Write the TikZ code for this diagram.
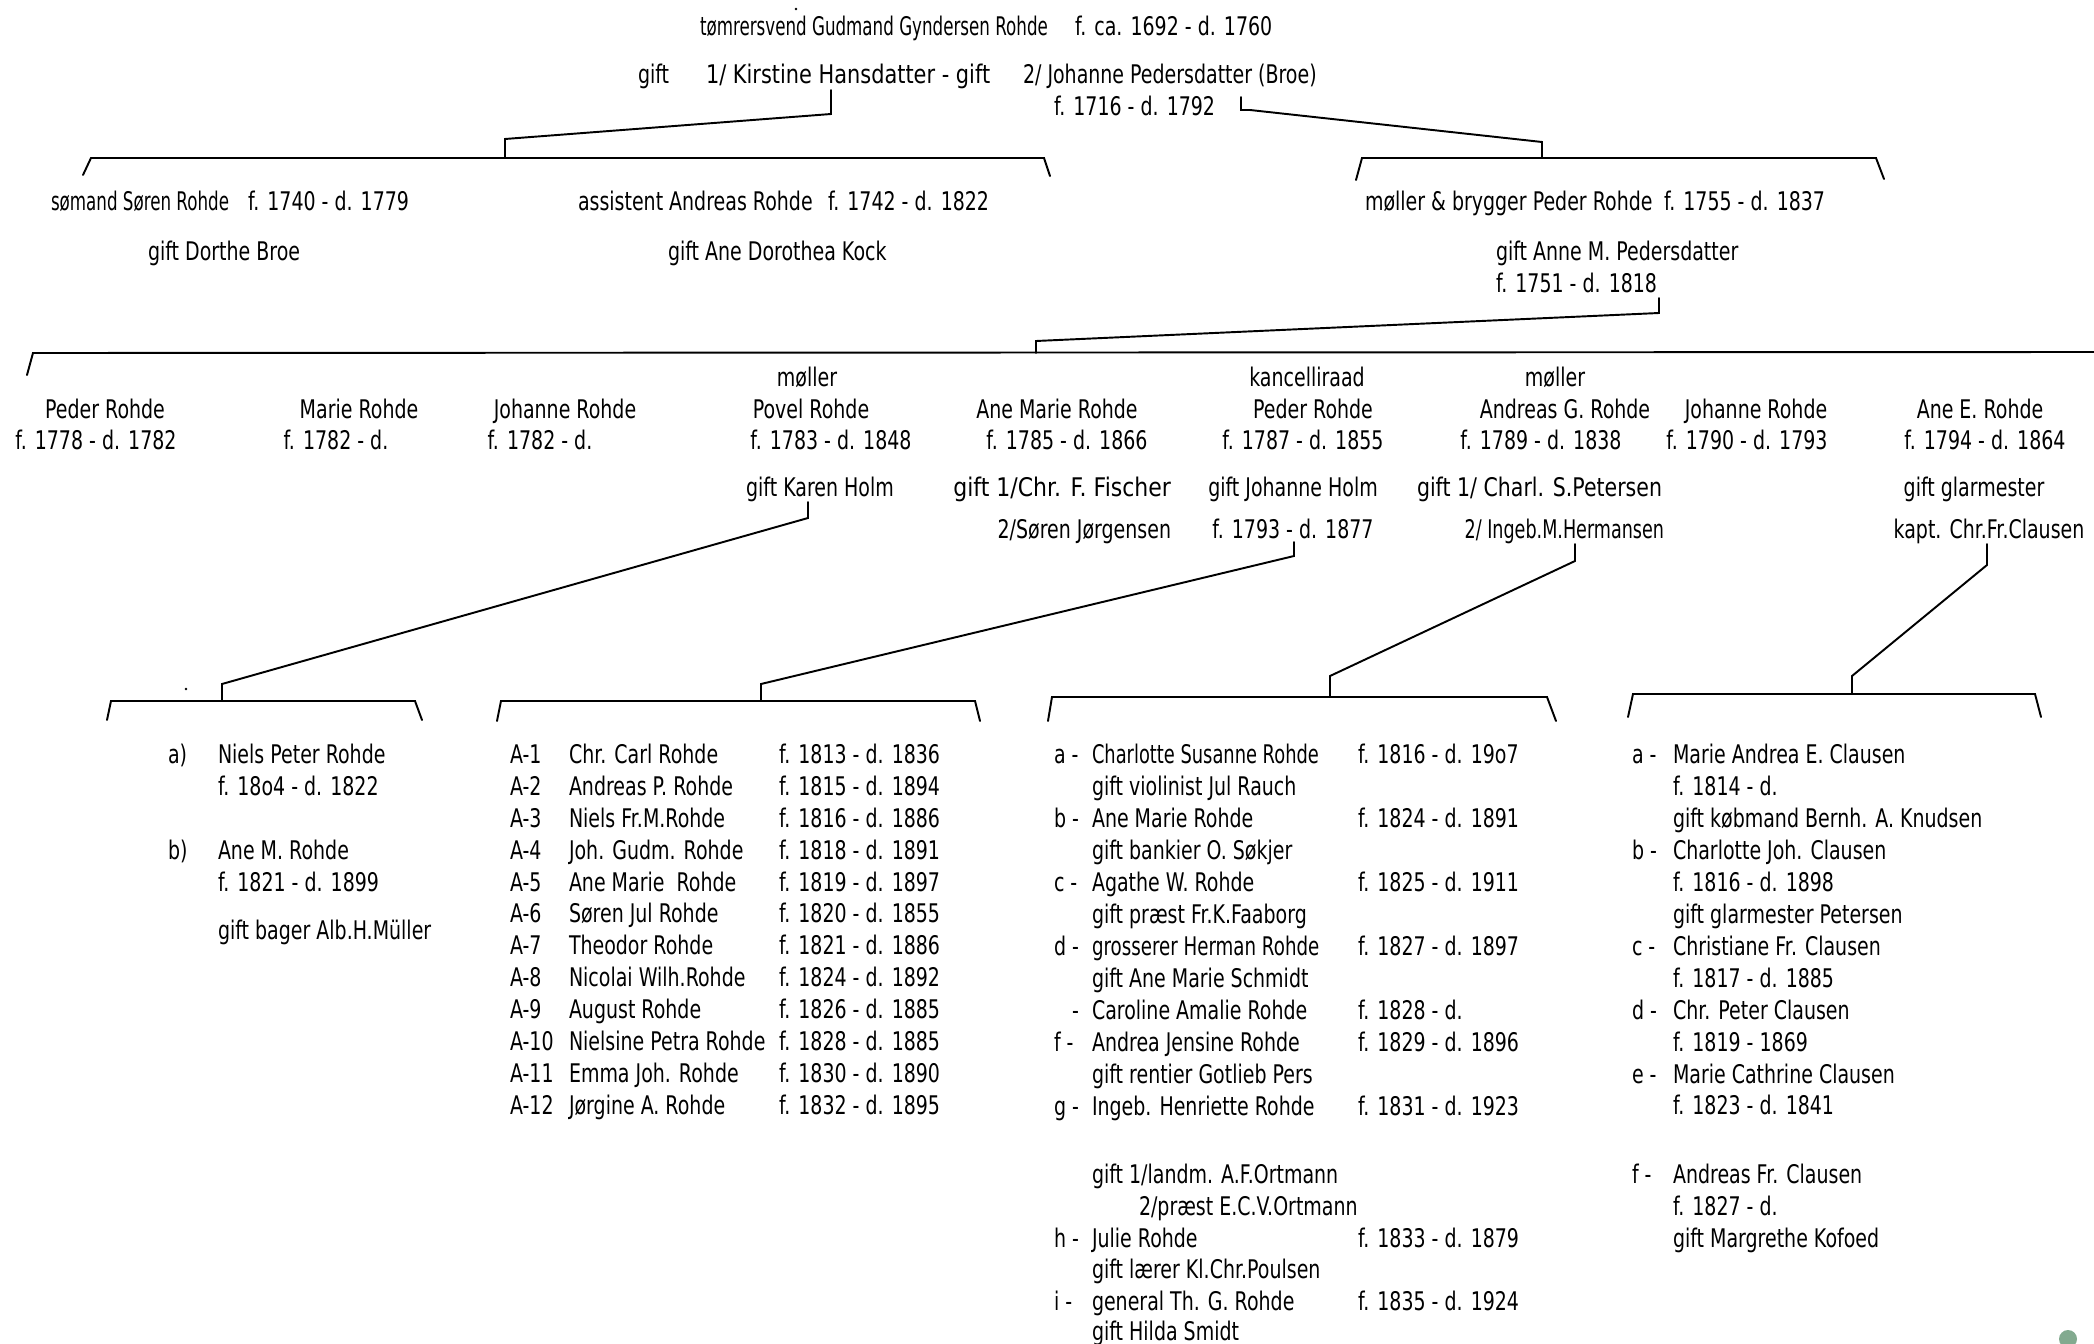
\documentclass[tikz,border=0pt]{standalone}
\usepackage{fontspec}
\usepackage{graphicx}
\setmainfont{DejaVu Sans}[FakeStretch=0.74]
\newcommand\famtxt{\fontsize{14.6}{17}\selectfont}
\newcommand\hsq[2]{\scalebox{#1}[1]{#2}}
\definecolor{dotgreen}{HTML}{82AA8F}
\tikzset{
  txt/.style={inner sep=0pt, outer sep=0pt, font=\famtxt},
  lt/.style={txt, anchor=base west},
  ct/.style={txt, anchor=base},
  rt/.style={txt, anchor=base east},
  conn/.style={line width=1.1pt, line join=miter, line cap=round},
}
\begin{document}
\begin{tikzpicture}[x=0.2mm, y=-0.2mm]
\useasboundingbox (0,0) rectangle (2094,1344);

% ---------- generation 1 ----------
\node[lt] (t1) at (700,36) {\hsq{0.88}{tømrersvend Gudmand Gyndersen Rohde}};
\node[lt] (t1d) at (1075,36) {f. ca. 1692 - d. 1760};
\node[lt] (t2a) at (638,84) {gift};
\node[lt] (t2b) at (706,84) {\hsq{1.1}{1/ Kirstine Hansdatter - gift}};
\node[lt] (t2c) at (1023,84) {2/ Johanne Pedersdatter (Broe)};
\node[lt] (t3) at (1054,115) {f. 1716 - d. 1792};

% connector to first marriage
\coordinate (k1a) at (831,90);
\coordinate (k1b) at (831,114);
\coordinate (k1c) at (505,139);
\coordinate (k1d) at (505,158);
\draw[conn] (k1a) -- (k1b) -- (k1c) -- (k1d);
% bracket 1
\coordinate (b1l) at (83,175);
\coordinate (b1a) at (91,158);
\coordinate (b1b) at (1044,158);
\coordinate (b1r) at (1050,176);
\draw[conn] (b1l) -- (b1a) -- (b1b) -- (b1r);

% connector to second marriage
\coordinate (k2a) at (1241,97);
\coordinate (k2b) at (1241,110);
\coordinate (k2c) at (1250,110);
\coordinate (k2d) at (1542,142);
\coordinate (k2e) at (1542,158);
\draw[conn] (k2a) -- (k2b) -- (k2c) -- (k2d) -- (k2e);
% bracket 2
\coordinate (b2l) at (1356,180);
\coordinate (b2a) at (1362,158);
\coordinate (b2b) at (1876,158);
\coordinate (b2r) at (1884,179);
\draw[conn] (b2l) -- (b2a) -- (b2b) -- (b2r);

% ---------- generation 2 ----------
\node[lt] (s1) at (51,210) {\hsq{0.88}{sømand Søren Rohde}};
\node[lt] (s1d) at (248,210) {f. 1740 - d. 1779};
\node[lt] (s1g) at (148,260) {gift Dorthe Broe};
\node[lt] (s2) at (578,210) {assistent Andreas Rohde};
\node[lt] (s2d) at (828,210) {f. 1742 - d. 1822};
\node[lt] (s2g) at (668,260) {gift Ane Dorothea Kock};
\node[lt] (s3) at (1365,210) {møller \& brygger Peder Rohde};
\node[lt] (s3d) at (1664,210) {f. 1755 - d. 1837};
\node[lt] (s3g) at (1496,260) {gift Anne M. Pedersdatter};
\node[lt] (s3gd) at (1496,292) {f. 1751 - d. 1818};

% connector to Peder's children
\coordinate (k3a) at (1659,298);
\coordinate (k3b) at (1659,313);
\coordinate (k3c) at (1036,341);
\coordinate (k3d) at (1036,353);
\draw[conn] (k3a) -- (k3b) -- (k3c) -- (k3d);
% bracket 3
\coordinate (b3l) at (27,375);
\coordinate (b3a) at (33,353);
\coordinate (b3b) at (2094,352);
\draw[conn] (b3l) -- (b3a) -- (b3b);

% ---------- generation 3 ----------
\node[ct] (p1) at (105,418) {Peder Rohde};
\node[ct] (p1d) at (96,449) {f. 1778 - d. 1782};
\node[ct] (p2) at (359,418) {Marie Rohde};
\node[ct] (p2d) at (336,449) {f. 1782 - d.};
\node[ct] (p3) at (565,418) {Johanne Rohde};
\node[ct] (p3d) at (540,449) {f. 1782 - d.};
\node[ct] (p4t) at (807,386) {møller};
\node[ct] (p4) at (811,418) {Povel Rohde};
\node[ct] (p4d) at (831,449) {f. 1783 - d. 1848};
\node[ct] (p4g) at (820,496) {gift Karen Holm};
\node[ct] (p5) at (1057,418) {Ane Marie Rohde};
\node[ct] (p5d) at (1067,449) {f. 1785 - d. 1866};
\node[rt] (p5g) at (1171,496) {\hsq{1.16}{gift 1/Chr. F. Fischer}};
\node[rt] (p5g2) at (1171,538) {2/Søren Jørgensen};
\node[ct] (p6t) at (1307,386) {kancelliraad};
\node[ct] (p6) at (1313,418) {Peder Rohde};
\node[ct] (p6d) at (1303,449) {f. 1787 - d. 1855};
\node[ct] (p6g) at (1293,496) {gift Johanne Holm};
\node[ct] (p6gd) at (1293,538) {f. 1793 - d. 1877};
\node[ct] (p7t) at (1555,386) {møller};
\node[ct] (p7) at (1565,418) {Andreas G. Rohde};
\node[ct] (p7d) at (1541,449) {f. 1789 - d. 1838};
\node[lt] (p7g) at (1417,496) {\hsq{1.08}{gift 1/ Charl. S.Petersen}};
\node[rt] (p7g2) at (1664,538) {\hsq{0.925}{2/ Ingeb.M.Hermansen}};
\node[ct] (p8) at (1756,418) {Johanne Rohde};
\node[ct] (p8d) at (1747,449) {f. 1790 - d. 1793};
\node[ct] (p9) at (1980,418) {Ane E. Rohde};
\node[ct] (p9d) at (1985,449) {f. 1794 - d. 1864};
\node[ct] (p9g) at (1974,496) {gift glarmester};
\node[ct] (p9g2) at (1989,538) {kapt. Chr.Fr.Clausen};

% connectors generation 3 -> 4
\coordinate (k4a) at (808,502);
\coordinate (k4b) at (808,518);
\coordinate (k4c) at (222,684);
\coordinate (k4d) at (222,701);
\draw[conn] (k4a) -- (k4b) -- (k4c) -- (k4d);

\coordinate (k5a) at (1294,542);
\coordinate (k5b) at (1294,556);
\coordinate (k5c) at (761,684);
\coordinate (k5d) at (761,701);
\draw[conn] (k5a) -- (k5b) -- (k5c) -- (k5d);

\coordinate (k6a) at (1575,544);
\coordinate (k6b) at (1575,561);
\coordinate (k6c) at (1330,676);
\coordinate (k6d) at (1330,697);
\draw[conn] (k6a) -- (k6b) -- (k6c) -- (k6d);

\coordinate (k7a) at (1987,544);
\coordinate (k7b) at (1987,565);
\coordinate (k7c) at (1852,676);
\coordinate (k7d) at (1852,694);
\draw[conn] (k7a) -- (k7b) -- (k7c) -- (k7d);

% brackets generation 4
\coordinate (bAl) at (107,720);
\coordinate (bAa) at (111,701);
\coordinate (bAb) at (415,701);
\coordinate (bAr) at (422,720);
\draw[conn] (bAl) -- (bAa) -- (bAb) -- (bAr);
\coordinate (bBl) at (497,721);
\coordinate (bBa) at (501,701);
\coordinate (bBb) at (975,701);
\coordinate (bBr) at (980,721);
\draw[conn] (bBl) -- (bBa) -- (bBb) -- (bBr);
\coordinate (bCl) at (1048,721);
\coordinate (bCa) at (1052,697);
\coordinate (bCb) at (1547,697);
\coordinate (bCr) at (1556,721);
\draw[conn] (bCl) -- (bCa) -- (bCb) -- (bCr);
\coordinate (bDl) at (1628,717);
\coordinate (bDa) at (1633,694);
\coordinate (bDb) at (2035,694);
\coordinate (bDr) at (2041,717);
\draw[conn] (bDl) -- (bDa) -- (bDb) -- (bDr);

% ---------- generation 4, column A ----------
\node[lt] (aal) at (168,763) {a)};
\node[lt] (aan) at (218,763) {Niels Peter Rohde};
\node[lt] (aad) at (218,795) {f. 18o4 - d. 1822};
\node[lt] (abl) at (168,859) {b)};
\node[lt] (abn) at (218,859) {Ane M. Rohde};
\node[lt] (abd) at (218,891) {f. 1821 - d. 1899};
\node[lt] (abg) at (218,939) {gift bager Alb.H.Müller};

% ---------- column B ----------
\node[lt] (B1l) at (510,763) {A-1};  \node[lt] (B1n) at (569,763) {Chr. Carl Rohde};      \node[lt] (B1d) at (779,763) {f. 1813 - d. 1836};
\node[lt] (B2l) at (510,795) {A-2};  \node[lt] (B2n) at (569,795) {Andreas P. Rohde};     \node[lt] (B2d) at (779,795) {f. 1815 - d. 1894};
\node[lt] (B3l) at (510,827) {A-3};  \node[lt] (B3n) at (569,827) {Niels Fr.M.Rohde};     \node[lt] (B3d) at (779,827) {f. 1816 - d. 1886};
\node[lt] (B4l) at (510,859) {A-4};  \node[lt] (B4n) at (569,859) {Joh. Gudm. Rohde};     \node[lt] (B4d) at (779,859) {f. 1818 - d. 1891};
\node[lt] (B5l) at (510,891) {A-5};  \node[lt] (B5n) at (569,891) {Ane Marie\ \ Rohde};   \node[lt] (B5d) at (779,891) {f. 1819 - d. 1897};
\node[lt] (B6l) at (510,922) {A-6};  \node[lt] (B6n) at (569,922) {Søren Jul Rohde};      \node[lt] (B6d) at (779,922) {f. 1820 - d. 1855};
\node[lt] (B7l) at (510,954) {A-7};  \node[lt] (B7n) at (569,954) {Theodor Rohde};        \node[lt] (B7d) at (779,954) {f. 1821 - d. 1886};
\node[lt] (B8l) at (510,986) {A-8};  \node[lt] (B8n) at (569,986) {Nicolai Wilh.Rohde};   \node[lt] (B8d) at (779,986) {f. 1824 - d. 1892};
\node[lt] (B9l) at (510,1018) {A-9}; \node[lt] (B9n) at (569,1018) {August Rohde};        \node[lt] (B9d) at (779,1018) {f. 1826 - d. 1885};
\node[lt] (B10l) at (510,1050) {A-10}; \node[lt] (B10n) at (569,1050) {Nielsine Petra Rohde}; \node[lt] (B10d) at (779,1050) {f. 1828 - d. 1885};
\node[lt] (B11l) at (510,1082) {A-11}; \node[lt] (B11n) at (569,1082) {Emma Joh. Rohde};    \node[lt] (B11d) at (779,1082) {f. 1830 - d. 1890};
\node[lt] (B12l) at (510,1114) {A-12}; \node[lt] (B12n) at (569,1114) {Jørgine A. Rohde};  \node[lt] (B12d) at (779,1114) {f. 1832 - d. 1895};

% ---------- column C ----------
\node[lt] (Cal) at (1054,763) {a -}; \node[lt] (Can) at (1092,763) {\hsq{0.94}{Charlotte Susanne Rohde}}; \node[lt] (Cad) at (1358,763) {f. 1816 - d. 19o7};
\node[lt] (Cag) at (1092,795) {gift violinist Jul Rauch};
\node[lt] (Cbl) at (1054,827) {b -}; \node[lt] (Cbn) at (1092,827) {Ane Marie Rohde}; \node[lt] (Cbd) at (1358,827) {f. 1824 - d. 1891};
\node[lt] (Cbg) at (1092,859) {gift bankier O. Søkjer};
\node[lt] (Ccl) at (1054,891) {c -}; \node[lt] (Ccn) at (1092,891) {Agathe W. Rohde}; \node[lt] (Ccd) at (1358,891) {f. 1825 - d. 1911};
\node[lt] (Ccg) at (1092,923) {gift præst Fr.K.Faaborg};
\node[lt] (Cdl) at (1054,955) {d -}; \node[lt] (Cdn) at (1092,955) {\hsq{0.96}{grosserer Herman Rohde}}; \node[lt] (Cdd) at (1358,955) {f. 1827 - d. 1897};
\node[lt] (Cdg) at (1092,987) {gift Ane Marie Schmidt};
\node[lt] (Cel) at (1072,1019) {-}; \node[lt] (Cen) at (1092,1019) {Caroline Amalie Rohde}; \node[lt] (Ced) at (1358,1019) {f. 1828 - d.};
\node[lt] (Cfl) at (1054,1051) {f -}; \node[lt] (Cfn) at (1092,1051) {Andrea Jensine Rohde}; \node[lt] (Cfd) at (1358,1051) {f. 1829 - d. 1896};
\node[lt] (Cfg) at (1092,1083) {gift rentier Gotlieb Pers};
\node[lt] (Cgl) at (1054,1115) {g -}; \node[lt] (Cgn) at (1092,1115) {Ingeb. Henriette Rohde}; \node[lt] (Cgd) at (1358,1115) {f. 1831 - d. 1923};
\node[lt] (Cgg) at (1092,1183) {gift 1/landm. A.F.Ortmann};
\node[lt] (Cgg2) at (1139,1215) {2/præst E.C.V.Ortmann};
\node[lt] (Chl) at (1054,1247) {h -}; \node[lt] (Chn) at (1092,1247) {Julie Rohde}; \node[lt] (Chd) at (1358,1247) {f. 1833 - d. 1879};
\node[lt] (Chg) at (1092,1278) {gift lærer Kl.Chr.Poulsen};
\node[lt] (Cil) at (1054,1310) {i -}; \node[lt] (Cin) at (1092,1310) {general Th. G. Rohde}; \node[lt] (Cid) at (1358,1310) {f. 1835 - d. 1924};
\node[lt] (Cig) at (1092,1340) {gift Hilda Smidt};

% ---------- column D ----------
\node[lt] (Dal) at (1632,763) {a -}; \node[lt] (Dan) at (1673,763) {Marie Andrea E. Clausen};
\node[lt] (Dad) at (1673,795) {f. 1814 - d.};
\node[lt] (Dag) at (1673,827) {gift købmand Bernh. A. Knudsen};
\node[lt] (Dbl) at (1632,859) {b -}; \node[lt] (Dbn) at (1673,859) {Charlotte Joh. Clausen};
\node[lt] (Dbd) at (1673,891) {f. 1816 - d. 1898};
\node[lt] (Dbg) at (1673,923) {gift glarmester Petersen};
\node[lt] (Dcl) at (1632,955) {c -}; \node[lt] (Dcn) at (1673,955) {Christiane Fr. Clausen};
\node[lt] (Dcd) at (1673,987) {f. 1817 - d. 1885};
\node[lt] (Ddl) at (1632,1019) {d -}; \node[lt] (Ddn) at (1673,1019) {Chr. Peter Clausen};
\node[lt] (Ddd) at (1673,1051) {f. 1819 - 1869};
\node[lt] (Del) at (1632,1083) {e -}; \node[lt] (Den) at (1673,1083) {Marie Cathrine Clausen};
\node[lt] (Ded) at (1673,1114) {f. 1823 - d. 1841};
\node[lt] (Dfl) at (1632,1183) {f -}; \node[lt] (Dfn) at (1673,1183) {Andreas Fr. Clausen};
\node[lt] (Dfd) at (1673,1215) {f. 1827 - d.};
\node[lt] (Dfg) at (1673,1247) {gift Margrethe Kofoed};

% specks and corner dot
\fill (796,9) circle (1.3);
\fill (186,689) circle (1.3);
\fill[dotgreen] (2068,1339) circle (9);
\end{tikzpicture}
\end{document}
